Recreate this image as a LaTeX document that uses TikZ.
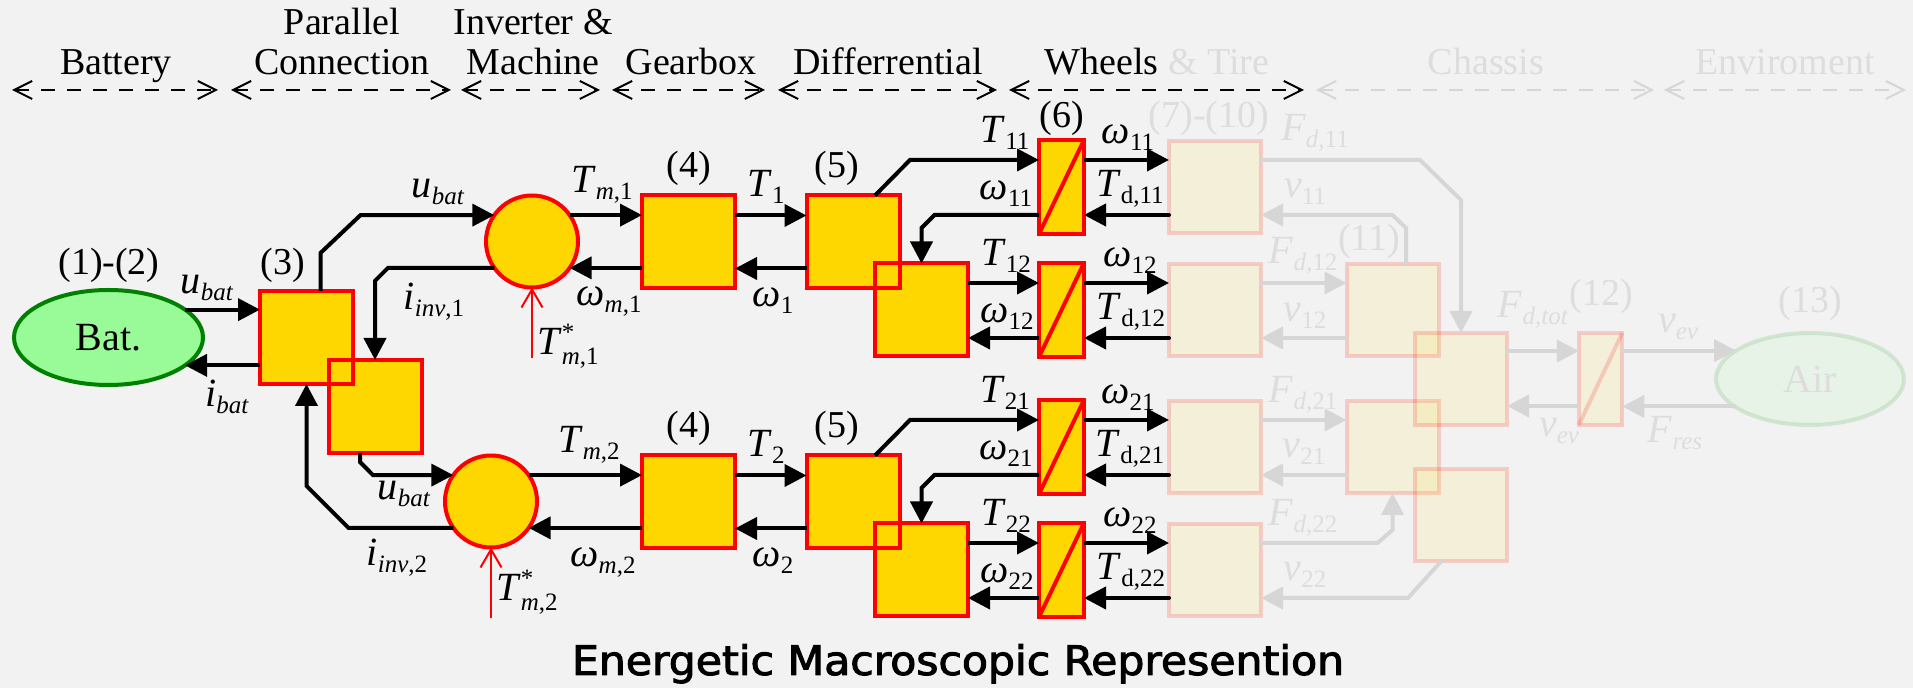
\documentclass[tikz,border=0pt]{standalone}
\usepackage{fontspec}
\usepackage{graphicx}
\setmainfont{Liberation Serif}
\newfontfamily\titlefont[BoldFont={DejaVu Sans Condensed},BoldFeatures={FakeBold=2.2}]{DejaVu Sans Condensed}
\usetikzlibrary{arrows.meta,shapes.geometric,calc}

\definecolor{bg}{RGB}{242,242,242}
\definecolor{emrgold}{RGB}{255,215,0}
\definecolor{emrred}{RGB}{255,0,0}
\definecolor{batgreen}{RGB}{152,251,152}
\definecolor{batedge}{RGB}{0,128,0}
\definecolor{fadetext}{RGB}{221,221,221}
\definecolor{fadeline}{RGB}{214,214,214}

\newcommand\hdrfont{\fontsize{19}{22}\selectfont}
\newcommand\labfont{\fontsize{20}{24}\selectfont}
\newcommand\subfont{\fontsize{12.5}{14}\selectfont}
% variable with subscript
\newcommand\emrv[2]{\textit{#1}\raisebox{-3.5pt}{\subfont #2}}
% torque reference T*_{m,k}
\newcommand\emrref[1]{\textit{T}\rlap{\raisebox{7pt}{\subfont *}}\raisebox{-5pt}{\subfont\textit{m},#1}}

\begin{document}
\begin{tikzpicture}[x=0.5pt,y=-0.5pt,
  box/.style={draw=emrred,fill=emrgold,line width=2pt,minimum width=46.5pt,minimum height=46.5pt,inner sep=0pt,outer sep=0pt},
  whl/.style={box,minimum width=22.5pt,minimum height=47pt},
  fbox/.style={draw=emrred,fill=emrgold,draw opacity=0.16,fill opacity=0.1,line width=2pt,minimum width=46pt,minimum height=46pt,inner sep=0pt,outer sep=0pt},
  fwhl/.style={fbox,minimum width=21.75pt},
  conv/.style={circle,draw=emrred,fill=emrgold,line width=2pt,minimum size=46pt,inner sep=0pt,outer sep=0pt},
  src/.style={ellipse,draw=batedge,fill=batgreen,line width=2pt,inner sep=0pt,outer sep=0pt,font=\labfont},
  arr/.style={line width=2pt,-{Triangle[length=11pt,width=11pt]}},
  farr/.style={arr,draw=fadeline,line cap=round},
  refarr/.style={draw=emrred,line width=1pt,-{Straight Barb[length=9pt,width=10.5pt]}},
  rededge/.style={draw=emrred,line width=2pt},
  fadeedge/.style={draw=emrred,draw opacity=0.16,line width=2pt},
  lbl/.style={inner sep=0pt,font=\labfont},
  flbl/.style={lbl,text=fadetext},
  num/.style={inner sep=0pt,anchor=base,font=\hdrfont},
  fnum/.style={num,text=fadetext},
  hdrarr/.style={line width=1pt,dash pattern=on 7pt off 6pt,{Straight Barb[length=9pt,width=9pt]}-{Straight Barb[length=9pt,width=9pt]}}
]
\path[use as bounding box,fill=bg] (0,0) rectangle (1913,688);

% ---------- section headers ----------
\node[num] (hbat) at (116,75) {Battery};
\node[num] (hpar1) at (342,35) {Parallel};
\node[num] (hpar2) at (342,75) {Connection};
\node[num] (hinv1) at (533,35) {Inverter \&};
\node[num] (hinv2) at (533,75) {Machine};
\node[num] (hgb) at (691,75) {Gearbox};
\node[num] (hdf) at (888,75) {Differrential};
\node[num] (hwh) at (1157,75) {Wheels \textcolor{fadetext}{\& Tire}};
\node[fnum] (hch) at (1486,75) {Chassis};
\node[fnum] (hen) at (1785,75) {Enviroment};
\foreach \a/\b/\n in {12/218/1,231/451/2,461/600/3,612/765/4,778/997/5,1009/1304/6}{
  \coordinate (hl\n) at (\a,90); \coordinate (hr\n) at (\b,90);
  \draw[hdrarr] (hl\n) -- (hr\n);
}
\foreach \a/\b/\n in {1316/1654/7,1664/1906/8}{
  \coordinate (hl\n) at (\a,90); \coordinate (hr\n) at (\b,90);
  \draw[hdrarr,draw=fadeline] (hl\n) -- (hr\n);
}

% ---------- faded part: tires, chassis, environment ----------
\foreach \k/\yy in {1/0,2/260}{
  \node[fbox] (t\k1) at (1215,{187+\yy}) {};
  \node[fbox] (t\k2) at (1215,{310+\yy}) {};
}
\node[fbox] (ck1) at (1392.5,310) {};
\node[fbox] (ck2) at (1392.5,447) {};
\node[fbox] (ch1) at (1461,379) {};
\node[fbox] (ch2) at (1461,515.5) {};
\node[fwhl] (g12) at (1600.5,379) {};
\draw[fadeedge] (g12.south west) -- (g12.north east);
\node[src,minimum width=94pt,minimum height=46pt,fill opacity=0.12,draw opacity=0.12,text opacity=1,text=fadetext] (air) at (1810,379) {Air};

\draw[farr] ($(t11.east)+(0,-27)$) -- ($(ch1.north |- t11.east)+(-41,-27)$) -- ($(ch1.north |- t11.east)+(0,13)$) -- (ch1.north);
\draw[farr] ($(ck1.north)+(13.5,0)$) -- ($(ck1.north |- t11.east)+(13.5,41)$) -- ($(ck1.north |- t11.east)+(0,28)$) -- ($(t11.east)+(0,28)$);
\draw[farr] ($(t12.east)+(0,-27)$) -- ($(ck1.west)+(0,-27)$);
\draw[farr] ($(ck1.west)+(0,28)$) -- ($(t12.east)+(0,28)$);
\draw[farr] ($(t21.east)+(0,-27)$) -- ($(ck2.west)+(0,-27)$);
\draw[farr] ($(ck2.west)+(0,28)$) -- ($(t21.east)+(0,28)$);
\draw[farr] ($(t22.east)+(0,-27)$) -- ($(ck2.south |- t22.east)+(-15,-27)$) -- ($(ck2.south |- t22.east)+(0,-40)$) -- (ck2.south);
\draw[farr] ($(ch2.south)+(-20,0)$) -- ($(ch2.south |- t22.east)+(-53,28)$) -- ($(t22.east)+(0,28)$);
\draw[farr] ($(ch1.east)+(0,-28)$) -- ($(g12.west)+(0,-28)$);
\draw[farr] ($(g12.west)+(0,27)$) -- ($(ch1.east)+(0,27)$);
\draw[farr] (g12.east |- air.159.4) -- (air.159.4);
\draw[farr] (air.200.6) -- (g12.east |- air.200.6);

\node[fnum] (n7) at (1209,128) {(7)-(10)};
\node[fnum] (n11) at (1369,251) {(11)};
\node[fnum] (n12) at (1601,306) {(12)};
\node[fnum] (n13) at (1810,313) {(13)};
\node[flbl] (lfd11) at (1315,133) {\emrv{F}{\textit{d},11}};
\node[flbl] (lv11) at (1305,192) {\emrv{v}{11}};
\node[flbl] (lfd12) at (1303,256) {\emrv{F}{\textit{d},12}};
\node[flbl] (lv12) at (1305,316) {\emrv{v}{12}};
\node[flbl] (lfd21) at (1303,395) {\emrv{F}{\textit{d},21}};
\node[flbl] (lv21) at (1304,452) {\emrv{v}{21}};
\node[flbl] (lfd22) at (1303,518) {\emrv{F}{\textit{d},22}};
\node[flbl] (lv22) at (1305,575) {\emrv{v}{22}};
\node[flbl] (lfdt) at (1533,310) {\emrv{F}{\textit{d,tot}}};
\node[flbl] (lvev1) at (1678,327) {\emrv{v}{\textit{ev}}};
\node[flbl] (lvev2) at (1559,431) {\emrv{v}{\textit{ev}}};
\node[flbl] (lfres) at (1675,433) {\emrv{F}{\textit{res}}};

% ---------- battery and parallel connection ----------
\node[src,minimum width=94.5pt,minimum height=47.5pt] (bat) at (108.5,337.5) {Bat.};
\node[box] (b3) at (306.5,337.5) {};
\node[box] (b3b) at (375,406.5) {};
\draw[rededge] (b3.south west) rectangle (b3.north east);
\node[num] (n12b) at (109,275) {(1)-(2)};
\node[num] (n3) at (283,275) {(3)};

\draw[arr] (bat.20) -- (b3.west |- bat.20);
\draw[arr] (b3.west |- bat.-20) -- (bat.-20);
\node[lbl] (lub0) at (207,288) {\emrv{u}{\textit{bat}}};
\node[lbl] (lib0) at (227,397) {\emrv{i}{\textit{bat}}};

% ---------- electric machines ----------
\node[conv] (c1) at (532,241.5) {};
\node[conv] (c2) at (491,501.5) {};

\draw[arr] ($(b3.north)+(14,0)$) -- ($(b3.north)+(14,-38)$) -- ($(b3.north |- c1.145)+(54,0)$) -- (c1.145);
\draw[arr] (c1.-145) -- ($(b3b.north |- c1.-145)+(13,0)$) -- ($(b3b.north |- c1.-145)+(0,13)$) -- (b3b.north);
\draw[arr] ($(b3b.south)+(-15,0)$) -- ($(b3b.south)+(-15,9)$) -- ($(b3b.south |- c2.145)+(-2,0)$) -- (c2.145);
\draw[arr] (c2.-145) -- ($(b3.south |- c2.-145)+(42,0)$) -- ($(b3.south |- c2.-145)+(0,-42)$) -- (b3.south);

\node[lbl] (lub1) at (438,192) {\emrv{u}{\textit{bat}}};
\node[lbl] (lii1) at (434,302) {\emrv{i}{\textit{inv},1}};
\node[lbl] (lub2) at (404,494) {\emrv{u}{\textit{bat}}};
\node[lbl] (lii2) at (397,558) {\emrv{i}{\textit{inv},2}};

\coordinate (ts1) at (532,358);
\coordinate (ts2) at (491,618);
\draw[refarr] (ts1) -- (c1.south);
\draw[refarr] (ts2) -- (c2.south);
\node[lbl] (lts1) at (568,346) {\emrref{1}};
\node[lbl] (lts2) at (527,592) {\emrref{2}};

% ---------- gearbox, differential, wheels (two drive lines) ----------
\foreach \k/\yy in {1/0,2/260}{
  \node[box] (gb\k) at (688.5,{242+\yy}) {};
  \node[box] (df\k) at (853,{242+\yy}) {};
  \node[box] (dfb\k) at (921.5,{310+\yy}) {};
  \draw[rededge] (df\k.south west) rectangle (df\k.north east);
  \node[whl] (w\k1) at (1061.5,{187+\yy}) {};
  \node[whl] (w\k2) at (1061.5,{310+\yy}) {};
  \draw[rededge] (w\k1.south west) -- (w\k1.north east);
  \draw[rededge] (w\k2.south west) -- (w\k2.north east);

  \draw[arr] (c\k.35) -- (gb\k.west |- c\k.35);
  \draw[arr] (gb\k.west |- c\k.-35) -- (c\k.-35);
  \draw[arr] ($(gb\k.east)+(0,-26.5)$) -- ($(df\k.west)+(0,-26.5)$);
  \draw[arr] ($(df\k.west)+(0,26.5)$) -- ($(gb\k.east)+(0,26.5)$);
  \draw[arr] ($(df\k.north)+(22,0)$) -- ($(df\k.north)+(57,-35.5)$) -- ($(w\k1.west)+(0,-27)$);
  \draw[arr] ($(w\k1.west)+(0,28)$) -- ($(dfb\k.north |- w\k1.west)+(13,28)$) -- ($(dfb\k.north |- w\k1.west)+(0,41)$) -- (dfb\k.north);
  \draw[arr] ($(dfb\k.east)+(0,-27)$) -- ($(w\k2.west)+(0,-27)$);
  \draw[arr] ($(w\k2.west)+(0,28)$) -- ($(dfb\k.east)+(0,28)$);
  \draw[arr] ($(w\k1.east)+(0,-27)$) -- ($(t\k1.west)+(0,-27)$);
  \draw[arr,line cap=round] ($(t\k1.west)+(0,28)$) -- ($(w\k1.east)+(0,28)$);
  \draw[arr] ($(w\k2.east)+(0,-27)$) -- ($(t\k2.west)+(0,-27)$);
  \draw[arr,line cap=round] ($(t\k2.west)+(0,28)$) -- ($(w\k2.east)+(0,28)$);

  \node[num] (n4\k) at (689,{178+\yy}) {(4)};
  \node[num] (n5\k) at (837,{178+\yy}) {(5)};
  \node[lbl] (lt\k) at (766,{187+\yy}) {\emrv{T}{\k}};
  \node[lbl] (lw\k) at (773,{301+\yy}) {\emrv{ω}{\k}};
  \node[lbl] (lta\k) at (1005,{133+\yy}) {\emrv{T}{\k1}};
  \node[lbl] (lwa\k) at (1128,{138+\yy}) {\emrv{ω}{\k1}};
  \node[lbl] (lwb\k) at (1006,{194+\yy}) {\emrv{ω}{\k1}};
  \node[lbl] (ltd\k) at (1130,{189+\yy}) {\emrv{T}{d,\k1}};
  \node[lbl] (ltc\k) at (1006,{256+\yy}) {\emrv{T}{\k2}};
  \node[lbl] (lwc\k) at (1130,{261+\yy}) {\emrv{ω}{\k2}};
  \node[lbl] (lwd\k) at (1007,{317+\yy}) {\emrv{ω}{\k2}};
  \node[lbl] (lte\k) at (1131,{312+\yy}) {\emrv{T}{d,\k2}};
}
\node[num] (n6) at (1062,128) {(6)};

\node[lbl] (ltm1) at (602,185) {\emrv{T}{\textit{m},1}};
\node[lbl] (lwm1) at (609,302) {\emrv{ω}{\textit{m},1}};
\node[lbl] (ltm2) at (589,445) {\emrv{T}{\textit{m},2}};
\node[lbl] (lwm2) at (603,563) {\emrv{ω}{\textit{m},2}};

% ---------- caption ----------
\node[anchor=base,inner sep=0pt] (title) at (958,675) {\resizebox{386pt}{15.4pt}{\titlefont\bfseries Energetic Macroscopic Represention}};
\end{tikzpicture}
\end{document}
